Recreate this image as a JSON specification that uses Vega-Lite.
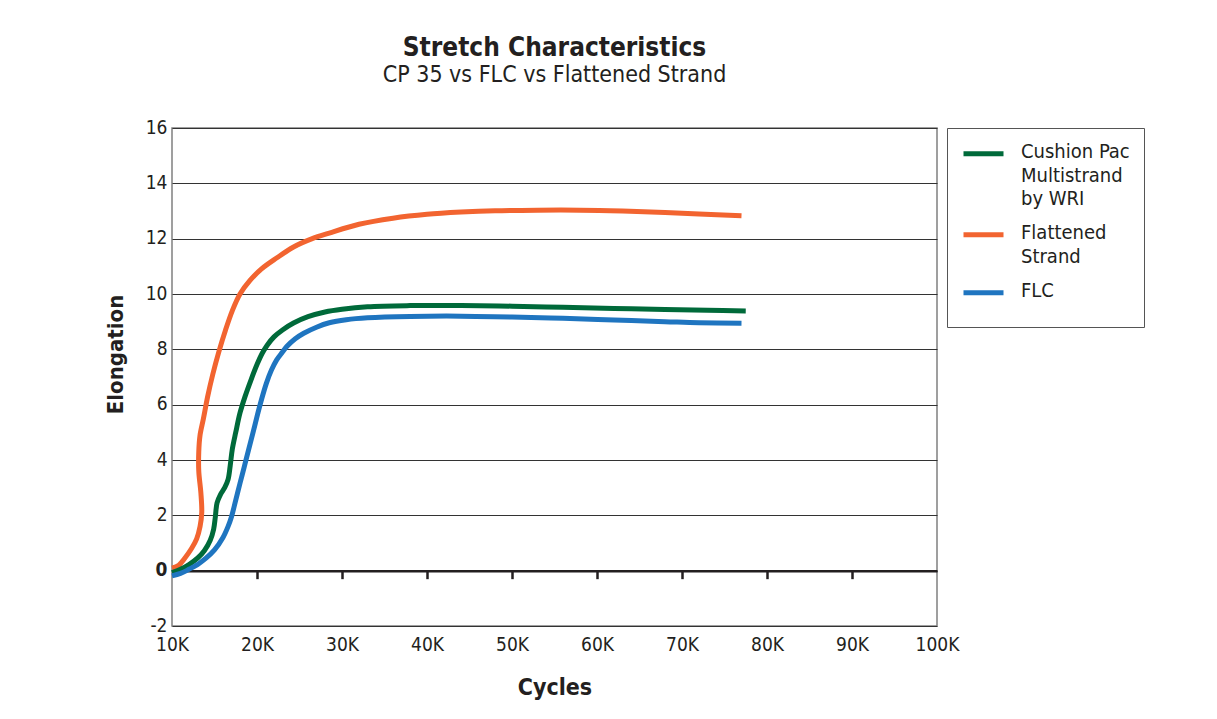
{
  "$schema": "https://vega.github.io/schema/vega-lite/v6.json",
  "width": 765,
  "height": 498,
  "autosize": {"type": "none"},
  "padding": {"left": 172, "top": 128, "right": 280, "bottom": 93},
  "background": "white",
  "config": {
    "font": "Liberation Sans Narrow, DejaVu Sans Condensed, sans-serif",
    "view": {"stroke": "#808080", "strokeWidth": 1.5}
  },
  "title": {
    "text": "Stretch Characteristics",
    "subtitle": "CP 35 vs FLC vs Flattened Strand",
    "fontSize": 26,
    "fontWeight": "bold",
    "color": "#231f20",
    "subtitleFontSize": 23,
    "subtitleColor": "#231f20",
    "subtitlePadding": 3,
    "anchor": "middle",
    "offset": 31
  },
  "data": {
    "values": [
      {"series": "Flattened Strand", "i": 1, "cycles": 10000, "elongation": 0.09},
      {"series": "Flattened Strand", "i": 2, "cycles": 10800, "elongation": 0.2},
      {"series": "Flattened Strand", "i": 3, "cycles": 11500, "elongation": 0.45},
      {"series": "Flattened Strand", "i": 4, "cycles": 12300, "elongation": 0.8},
      {"series": "Flattened Strand", "i": 5, "cycles": 12900, "elongation": 1.15},
      {"series": "Flattened Strand", "i": 6, "cycles": 13300, "elongation": 1.6},
      {"series": "Flattened Strand", "i": 7, "cycles": 13500, "elongation": 2.1},
      {"series": "Flattened Strand", "i": 8, "cycles": 13400, "elongation": 2.8},
      {"series": "Flattened Strand", "i": 9, "cycles": 13150, "elongation": 3.6},
      {"series": "Flattened Strand", "i": 10, "cycles": 13150, "elongation": 4.3},
      {"series": "Flattened Strand", "i": 11, "cycles": 13300, "elongation": 4.9},
      {"series": "Flattened Strand", "i": 12, "cycles": 13700, "elongation": 5.5},
      {"series": "Flattened Strand", "i": 13, "cycles": 14200, "elongation": 6.3},
      {"series": "Flattened Strand", "i": 14, "cycles": 14800, "elongation": 7.1},
      {"series": "Flattened Strand", "i": 15, "cycles": 15500, "elongation": 7.9},
      {"series": "Flattened Strand", "i": 16, "cycles": 16300, "elongation": 8.7},
      {"series": "Flattened Strand", "i": 17, "cycles": 17100, "elongation": 9.4},
      {"series": "Flattened Strand", "i": 18, "cycles": 18000, "elongation": 10.0},
      {"series": "Flattened Strand", "i": 19, "cycles": 19200, "elongation": 10.5},
      {"series": "Flattened Strand", "i": 20, "cycles": 20500, "elongation": 10.9},
      {"series": "Flattened Strand", "i": 21, "cycles": 22300, "elongation": 11.3},
      {"series": "Flattened Strand", "i": 22, "cycles": 24300, "elongation": 11.7},
      {"series": "Flattened Strand", "i": 23, "cycles": 26500, "elongation": 12.0},
      {"series": "Flattened Strand", "i": 24, "cycles": 28500, "elongation": 12.2},
      {"series": "Flattened Strand", "i": 25, "cycles": 32000, "elongation": 12.52},
      {"series": "Flattened Strand", "i": 26, "cycles": 36000, "elongation": 12.74},
      {"series": "Flattened Strand", "i": 27, "cycles": 40000, "elongation": 12.88},
      {"series": "Flattened Strand", "i": 28, "cycles": 44000, "elongation": 12.96},
      {"series": "Flattened Strand", "i": 29, "cycles": 48000, "elongation": 13.01},
      {"series": "Flattened Strand", "i": 30, "cycles": 53000, "elongation": 13.03},
      {"series": "Flattened Strand", "i": 31, "cycles": 58000, "elongation": 13.03},
      {"series": "Flattened Strand", "i": 32, "cycles": 63000, "elongation": 13.0},
      {"series": "Flattened Strand", "i": 33, "cycles": 68000, "elongation": 12.95},
      {"series": "Flattened Strand", "i": 34, "cycles": 72000, "elongation": 12.89},
      {"series": "Flattened Strand", "i": 35, "cycles": 77000, "elongation": 12.83},

      {"series": "Cushion Pac Multistrand by WRI", "i": 1, "cycles": 10000, "elongation": -0.07},
      {"series": "Cushion Pac Multistrand by WRI", "i": 2, "cycles": 11000, "elongation": 0.05},
      {"series": "Cushion Pac Multistrand by WRI", "i": 3, "cycles": 12000, "elongation": 0.22},
      {"series": "Cushion Pac Multistrand by WRI", "i": 4, "cycles": 13000, "elongation": 0.45},
      {"series": "Cushion Pac Multistrand by WRI", "i": 5, "cycles": 13800, "elongation": 0.72},
      {"series": "Cushion Pac Multistrand by WRI", "i": 6, "cycles": 14500, "elongation": 1.1},
      {"series": "Cushion Pac Multistrand by WRI", "i": 7, "cycles": 14900, "elongation": 1.5},
      {"series": "Cushion Pac Multistrand by WRI", "i": 8, "cycles": 15100, "elongation": 1.95},
      {"series": "Cushion Pac Multistrand by WRI", "i": 9, "cycles": 15300, "elongation": 2.45},
      {"series": "Cushion Pac Multistrand by WRI", "i": 10, "cycles": 15700, "elongation": 2.75},
      {"series": "Cushion Pac Multistrand by WRI", "i": 11, "cycles": 16200, "elongation": 3.0},
      {"series": "Cushion Pac Multistrand by WRI", "i": 12, "cycles": 16600, "elongation": 3.3},
      {"series": "Cushion Pac Multistrand by WRI", "i": 13, "cycles": 16850, "elongation": 3.8},
      {"series": "Cushion Pac Multistrand by WRI", "i": 14, "cycles": 17100, "elongation": 4.4},
      {"series": "Cushion Pac Multistrand by WRI", "i": 15, "cycles": 17500, "elongation": 5.0},
      {"series": "Cushion Pac Multistrand by WRI", "i": 16, "cycles": 18000, "elongation": 5.7},
      {"series": "Cushion Pac Multistrand by WRI", "i": 17, "cycles": 18600, "elongation": 6.3},
      {"series": "Cushion Pac Multistrand by WRI", "i": 18, "cycles": 19300, "elongation": 6.9},
      {"series": "Cushion Pac Multistrand by WRI", "i": 19, "cycles": 20000, "elongation": 7.45},
      {"series": "Cushion Pac Multistrand by WRI", "i": 20, "cycles": 20600, "elongation": 7.85},
      {"series": "Cushion Pac Multistrand by WRI", "i": 21, "cycles": 21200, "elongation": 8.15},
      {"series": "Cushion Pac Multistrand by WRI", "i": 22, "cycles": 22000, "elongation": 8.45},
      {"series": "Cushion Pac Multistrand by WRI", "i": 23, "cycles": 23000, "elongation": 8.7},
      {"series": "Cushion Pac Multistrand by WRI", "i": 24, "cycles": 24300, "elongation": 8.95},
      {"series": "Cushion Pac Multistrand by WRI", "i": 25, "cycles": 26000, "elongation": 9.18},
      {"series": "Cushion Pac Multistrand by WRI", "i": 26, "cycles": 28000, "elongation": 9.35},
      {"series": "Cushion Pac Multistrand by WRI", "i": 27, "cycles": 30000, "elongation": 9.45},
      {"series": "Cushion Pac Multistrand by WRI", "i": 28, "cycles": 33000, "elongation": 9.54},
      {"series": "Cushion Pac Multistrand by WRI", "i": 29, "cycles": 38000, "elongation": 9.58},
      {"series": "Cushion Pac Multistrand by WRI", "i": 30, "cycles": 44000, "elongation": 9.58},
      {"series": "Cushion Pac Multistrand by WRI", "i": 31, "cycles": 50000, "elongation": 9.56},
      {"series": "Cushion Pac Multistrand by WRI", "i": 32, "cycles": 56000, "elongation": 9.52},
      {"series": "Cushion Pac Multistrand by WRI", "i": 33, "cycles": 62000, "elongation": 9.48},
      {"series": "Cushion Pac Multistrand by WRI", "i": 34, "cycles": 68000, "elongation": 9.44},
      {"series": "Cushion Pac Multistrand by WRI", "i": 35, "cycles": 73000, "elongation": 9.41},
      {"series": "Cushion Pac Multistrand by WRI", "i": 36, "cycles": 77500, "elongation": 9.39},

      {"series": "FLC", "i": 1, "cycles": 10000, "elongation": -0.19},
      {"series": "FLC", "i": 2, "cycles": 11000, "elongation": -0.1},
      {"series": "FLC", "i": 3, "cycles": 12000, "elongation": 0.05},
      {"series": "FLC", "i": 4, "cycles": 13000, "elongation": 0.22},
      {"series": "FLC", "i": 5, "cycles": 14000, "elongation": 0.45},
      {"series": "FLC", "i": 6, "cycles": 15000, "elongation": 0.75},
      {"series": "FLC", "i": 7, "cycles": 16000, "elongation": 1.2},
      {"series": "FLC", "i": 8, "cycles": 16600, "elongation": 1.6},
      {"series": "FLC", "i": 9, "cycles": 17000, "elongation": 1.95},
      {"series": "FLC", "i": 10, "cycles": 17500, "elongation": 2.55},
      {"series": "FLC", "i": 11, "cycles": 18000, "elongation": 3.16},
      {"series": "FLC", "i": 12, "cycles": 18500, "elongation": 3.75},
      {"series": "FLC", "i": 13, "cycles": 19000, "elongation": 4.36},
      {"series": "FLC", "i": 14, "cycles": 19500, "elongation": 4.95},
      {"series": "FLC", "i": 15, "cycles": 20000, "elongation": 5.57},
      {"series": "FLC", "i": 16, "cycles": 20500, "elongation": 6.15},
      {"series": "FLC", "i": 17, "cycles": 21100, "elongation": 6.77},
      {"series": "FLC", "i": 18, "cycles": 21700, "elongation": 7.25},
      {"series": "FLC", "i": 19, "cycles": 22300, "elongation": 7.61},
      {"series": "FLC", "i": 20, "cycles": 23000, "elongation": 7.9},
      {"series": "FLC", "i": 21, "cycles": 23500, "elongation": 8.1},
      {"series": "FLC", "i": 22, "cycles": 24500, "elongation": 8.38},
      {"series": "FLC", "i": 23, "cycles": 25500, "elongation": 8.58},
      {"series": "FLC", "i": 24, "cycles": 27000, "elongation": 8.8},
      {"series": "FLC", "i": 25, "cycles": 28500, "elongation": 8.96},
      {"series": "FLC", "i": 26, "cycles": 30500, "elongation": 9.07},
      {"series": "FLC", "i": 27, "cycles": 33000, "elongation": 9.14},
      {"series": "FLC", "i": 28, "cycles": 38000, "elongation": 9.19},
      {"series": "FLC", "i": 29, "cycles": 44000, "elongation": 9.2},
      {"series": "FLC", "i": 30, "cycles": 50000, "elongation": 9.17},
      {"series": "FLC", "i": 31, "cycles": 56000, "elongation": 9.12},
      {"series": "FLC", "i": 32, "cycles": 62000, "elongation": 9.06},
      {"series": "FLC", "i": 33, "cycles": 68000, "elongation": 9.0},
      {"series": "FLC", "i": 34, "cycles": 72000, "elongation": 8.96},
      {"series": "FLC", "i": 35, "cycles": 77000, "elongation": 8.94}
    ]
  },
  "layer": [
    {
      "mark": {"type": "line", "strokeWidth": 5, "interpolate": "catmull-rom", "strokeCap": "butt"},
      "encoding": {
        "x": {
          "field": "cycles",
          "type": "quantitative",
          "scale": {"domain": [10000, 100000], "nice": false, "zero": false},
          "axis": {
            "title": "Cycles",
            "titleFontSize": 23,
            "titleFontWeight": "bold",
            "titleColor": "#231f20",
            "titlePadding": 22,
            "values": [10000, 20000, 30000, 40000, 50000, 60000, 70000, 80000, 90000, 100000],
            "labelExpr": "format(datum.value / 1000, 'd') + 'K'",
            "labelFontSize": 19,
            "labelColor": "#231f20",
            "labelPadding": 57,
            "labelFlush": false,
            "offset": -55.33,
            "grid": false,
            "domain": true,
            "domainColor": "#231f20",
            "domainWidth": 2.5,
            "ticks": true,
            "tickSize": 8,
            "tickWidth": 2.5,
            "tickColor": "#231f20",
            "tickOpacity": {"condition": {"test": "datum.value == 10000 || datum.value == 100000", "value": 0}, "value": 1}
          }
        },
        "y": {
          "field": "elongation",
          "type": "quantitative",
          "scale": {"domain": [-2, 16], "nice": false, "zero": false},
          "axis": {
            "title": "Elongation",
            "titleFontSize": 22,
            "titleFontWeight": "bold",
            "titleColor": "#231f20",
            "titlePadding": 18,
            "titleY": 226,
            "values": [-2, 0, 2, 4, 6, 8, 10, 12, 14, 16],
            "labelExpr": "(datum.value < 0 ? '-' : '') + abs(datum.value)",
            "labelFontSize": 19,
            "labelColor": "#231f20",
            "labelPadding": 5,
            "labelOffset": -1,
            "labelFontWeight": {"condition": {"test": "datum.value == 0", "value": "bold"}, "value": "normal"},
            "ticks": false,
            "domain": false,
            "grid": true,
            "gridColor": "#333333",
            "gridWidth": 1.2
          }
        },
        "color": {
          "field": "series",
          "type": "nominal",
          "scale": {
            "domain": ["Cushion Pac Multistrand by WRI", "Flattened Strand", "FLC"],
            "range": ["#006a3a", "#f26430", "#1f75c0"]
          },
          "legend": {
            "title": " ",
            "titleOrient": "bottom",
            "titleFontSize": 6,
            "titlePadding": 4,
            "orient": "right",
            "offset": 10,
            "padding": 14,
            "strokeColor": "#555555",
            "fillColor": "white",
            "symbolType": "stroke",
            "symbolStrokeWidth": 5,
            "symbolSize": 1600,
            "labelFontSize": 20,
            "labelColor": "#231f20",
            "labelOffset": 15,
            "labelLimit": 200,
            "labelBaseline": "top",
            "rowPadding": 14,
            "labelExpr": "datum.label == 'Cushion Pac Multistrand by WRI' ? ['Cushion Pac', 'Multistrand', 'by WRI'] : datum.label == 'Flattened Strand' ? ['Flattened', 'Strand'] : datum.label",
            "encode": {
              "labels": {"update": {"y": {"value": 0}, "lineHeight": {"value": 23.5}}},
              "symbols": {"update": {"y": {"value": 11.75}}}
            }
          }
        },
        "order": {"field": "i", "type": "quantitative"}
      }
    }
  ]
}
